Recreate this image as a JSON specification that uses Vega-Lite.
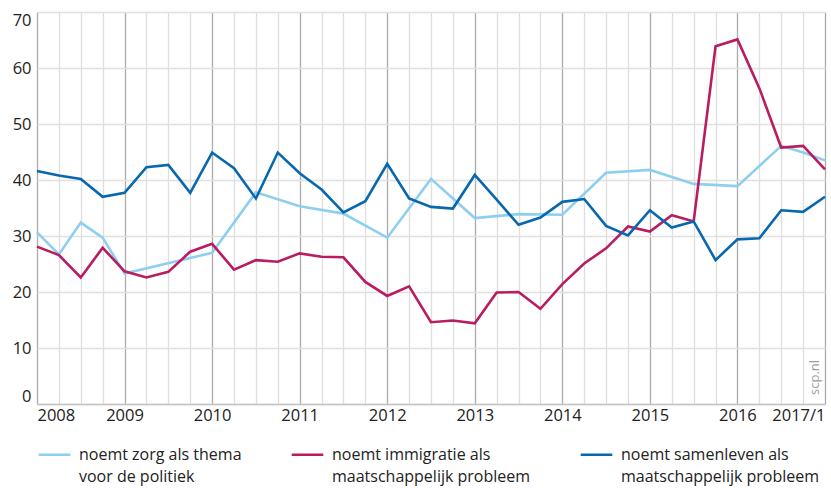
{
  "$schema": "https://vega.github.io/schema/vega-lite/v6.json",
  "width": 788,
  "height": 392,
  "autosize": "none",
  "padding": {"left": 37, "top": 12, "right": 6, "bottom": 84},
  "config": {"view": {"stroke": null}, "font": "Open Sans"},
  "layer": [
    {
      "data": {
        "values": [
          {"kwartaal": "2008-1", "zorg": 30.7, "immigratie": 28.1, "samenleven": 41.6},
          {"kwartaal": "2008-2", "zorg": 26.7, "immigratie": 26.6, "samenleven": 40.8},
          {"kwartaal": "2008-3", "zorg": 32.4, "immigratie": 22.6, "samenleven": 40.2},
          {"kwartaal": "2008-4", "zorg": 29.7, "immigratie": 27.9, "samenleven": 37.0},
          {"kwartaal": "2009-1", "zorg": 23.3, "immigratie": 23.7, "samenleven": 37.7},
          {"kwartaal": "2009-2", "zorg": null, "immigratie": 22.6, "samenleven": 42.3},
          {"kwartaal": "2009-3", "zorg": null, "immigratie": 23.6, "samenleven": 42.7},
          {"kwartaal": "2009-4", "zorg": null, "immigratie": 27.2, "samenleven": 37.7},
          {"kwartaal": "2010-1", "zorg": 27.0, "immigratie": 28.6, "samenleven": 44.9},
          {"kwartaal": "2010-2", "zorg": null, "immigratie": 24.0, "samenleven": 42.1},
          {"kwartaal": "2010-3", "zorg": 37.8, "immigratie": 25.7, "samenleven": 36.7},
          {"kwartaal": "2010-4", "zorg": null, "immigratie": 25.4, "samenleven": 44.9},
          {"kwartaal": "2011-1", "zorg": 35.3, "immigratie": 26.9, "samenleven": 41.2},
          {"kwartaal": "2011-2", "zorg": null, "immigratie": 26.3, "samenleven": 38.3},
          {"kwartaal": "2011-3", "zorg": 34.0, "immigratie": 26.2, "samenleven": 34.2},
          {"kwartaal": "2011-4", "zorg": null, "immigratie": 21.8, "samenleven": 36.2},
          {"kwartaal": "2012-1", "zorg": 29.7, "immigratie": 19.3, "samenleven": 42.9},
          {"kwartaal": "2012-2", "zorg": null, "immigratie": 21.0, "samenleven": 36.7},
          {"kwartaal": "2012-3", "zorg": 40.2, "immigratie": 14.6, "samenleven": 35.2},
          {"kwartaal": "2012-4", "zorg": null, "immigratie": 14.9, "samenleven": 34.9},
          {"kwartaal": "2013-1", "zorg": 33.2, "immigratie": 14.4, "samenleven": 40.9},
          {"kwartaal": "2013-2", "zorg": null, "immigratie": 19.9, "samenleven": 36.5},
          {"kwartaal": "2013-3", "zorg": 33.9, "immigratie": 20.0, "samenleven": 32.0},
          {"kwartaal": "2013-4", "zorg": null, "immigratie": 17.0, "samenleven": 33.3},
          {"kwartaal": "2014-1", "zorg": 33.8, "immigratie": 21.4, "samenleven": 36.1},
          {"kwartaal": "2014-2", "zorg": null, "immigratie": 25.1, "samenleven": 36.6},
          {"kwartaal": "2014-3", "zorg": 41.3, "immigratie": 27.8, "samenleven": 31.8},
          {"kwartaal": "2014-4", "zorg": null, "immigratie": 31.7, "samenleven": 30.1},
          {"kwartaal": "2015-1", "zorg": 41.8, "immigratie": 30.8, "samenleven": 34.6},
          {"kwartaal": "2015-2", "zorg": null, "immigratie": 33.7, "samenleven": 31.5},
          {"kwartaal": "2015-3", "zorg": 39.3, "immigratie": 32.6, "samenleven": 32.6},
          {"kwartaal": "2015-4", "zorg": null, "immigratie": 63.9, "samenleven": 25.7},
          {"kwartaal": "2016-1", "zorg": 38.9, "immigratie": 65.1, "samenleven": 29.4},
          {"kwartaal": "2016-2", "zorg": null, "immigratie": 56.4, "samenleven": 29.6},
          {"kwartaal": "2016-3", "zorg": 46.1, "immigratie": 45.8, "samenleven": 34.6},
          {"kwartaal": "2016-4", "zorg": 44.9, "immigratie": 46.1, "samenleven": 34.3},
          {"kwartaal": "2017-1", "zorg": 43.5, "immigratie": 41.9, "samenleven": 37.0}
        ]
      },
      "transform": [
        {"fold": ["zorg", "immigratie", "samenleven"], "as": ["reeks", "waarde"]},
        {"filter": "datum.waarde != null"}
      ],
      "mark": {"type": "line", "strokeWidth": 2.6},
      "encoding": {
        "x": {
          "field": "kwartaal",
          "type": "ordinal",
          "scale": {"type": "point", "padding": 0},
          "axis": {
            "title": null,
            "labelExpr": "datum.value === '2017-1' ? '2017/1' : (slice(datum.value, 5) === '1' ? slice(datum.value, 0, 4) : '')",
            "labelFlush": true,
            "labelOverlap": false,
            "labelAngle": 0,
            "ticks": false,
            "tickSize": 0,
            "labelPadding": 3,
            "labelFontSize": 16.5,
            "labelColor": "#222222",
            "grid": true,
            "gridColor": {"condition": {"test": "slice(datum.value, 5) === '1'", "value": "#ababab"}, "value": "#dedede"},
            "gridWidth": 1.3,
            "domainColor": "#c4c4c4",
            "domainWidth": 1.5
          }
        },
        "y": {
          "field": "waarde",
          "type": "quantitative",
          "scale": {"domain": [0, 70], "nice": false},
          "axis": {
            "title": null,
            "values": [0, 10, 20, 30, 40, 50, 60, 70],
            "labelFlush": true,
            "ticks": false,
            "tickSize": 0,
            "domain": false,
            "labelPadding": 6,
            "labelFontSize": 16.5,
            "labelColor": "#222222",
            "grid": true,
            "gridColor": "#e0e0e0",
            "gridWidth": 1.3
          }
        },
        "color": {
          "field": "reeks",
          "type": "nominal",
          "scale": {"domain": ["zorg", "immigratie", "samenleven"], "range": ["#8ecff0", "#b91c60", "#0868ae"]},
          "legend": {
            "title": null,
            "orient": "bottom",
            "direction": "horizontal",
            "columns": 3,
            "symbolType": "stroke",
            "symbolSize": 1000,
            "symbolStrokeWidth": 2.6,
            "labelFontSize": 16,
            "labelColor": "#222222",
            "labelLimit": 400,
            "labelOffset": 7,
            "columnPadding": 44,
            "padding": 0,
            "offset": 13,
            "labelExpr": "datum.label === 'zorg' ? ['noemt zorg als thema', 'voor de politiek'] : (datum.label === 'immigratie' ? ['noemt immigratie als', 'maatschappelijk probleem'] : ['noemt samenleven als', 'maatschappelijk probleem'])",
            "encode": {"labels": {"update": {"lineHeight": {"value": 22}}}}
          }
        }
      }
    },
    {
      "data": {"values": [{"bron": "scp.nl"}]},
      "mark": {"type": "text", "angle": 270, "align": "left", "baseline": "middle", "dx": 9, "dy": -10, "fontSize": 13, "color": "#a0a0a0"},
      "encoding": {
        "x": {"datum": "2017-1", "type": "ordinal"},
        "y": {"datum": 0, "type": "quantitative"},
        "text": {"field": "bron"}
      }
    }
  ]
}
